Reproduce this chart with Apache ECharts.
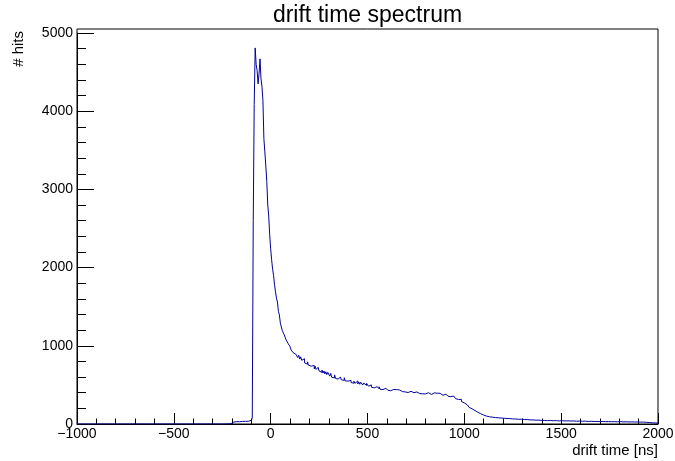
<!DOCTYPE html>
<html>
<head>
<meta charset="utf-8">
<script src="https://cdn.jsdelivr.net/npm/echarts@6/dist/echarts.min.js"></script>
<style>
  html, body { margin: 0; padding: 0; background: #fff; }
  #chart { width: 675px; height: 461px; }
</style>
</head>
<body>
<div id="chart"></div>
<script>
// Histogram binning (ns)
const binStart = -1000;
const binWidth = 5;
const xMin = -1000, xMax = 2000, xInterval = 500;
const yTickMax = 5000, yInterval = 1000;
const yMax = 5052;

const chartTitle = "drift time spectrum";
const xTitle = "drift time [ns]";
const yTitle = "# hits";

// counts per 5 ns bin, from -1000 ns to 2000 ns (one row = 100 ns)
const counts = [
  0,0,0,0,0,0,0,0,0,0,0,0,0,0,0,0,0,0,0,0,
  0,0,0,0,0,0,0,0,0,0,0,0,0,0,0,0,0,0,0,0,
  0,0,0,0,0,0,0,0,0,0,0,0,0,0,0,0,0,0,0,0,
  0,0,0,0,0,0,0,0,0,0,0,0,0,0,0,0,0,0,0,0,
  0,0,0,0,0,0,0,0,0,0,0,0,0,0,0,0,0,0,0,0,
  0,0,0,0,0,0,0,0,0,0,0,0,0,0,0,0,0,0,0,0,
  0,0,0,0,0,0,0,0,0,0,0,0,0,0,0,0,0,0,0,0,
  0,0,0,0,0,0,0,0,0,0,1,0,0,1,0,2,1,3,4,9,
  20,25,27,26,30,28,31,29,30,32,33,31,32,34,33,36,35,38,41,46,
  62,78,2600,4085,4810,4600,4520,4350,4480,4670,4420,4320,4140,3650,3480,3300,3100,2800,2660,2420,
  2240,2100,1980,1900,1780,1690,1610,1560,1440,1395,1290,1265,1195,1200,1140,1125,1075,1080,1030,1020,
  990,950,968,915,940,892,878,905,850,878,830,860,815,805,835,782,805,765,795,752,
  770,740,762,720,748,705,738,698,688,725,678,700,660,690,652,678,640,668,632,660,
  635,612,648,598,620,590,628,582,606,575,600,566,602,565,586,558,592,552,576,548,
  566,540,558,530,555,522,548,520,542,550,512,538,508,534,528,498,524,503,494,520,
  505,484,480,500,470,490,462,486,458,478,455,450,476,445,466,440,462,438,458,434,
  452,432,447,425,446,422,442,425,418,440,434,415,436,412,432,415,407,430,410,426,
  422,403,424,398,418,395,416,400,392,417,410,391,413,389,409,394,386,408,390,385,
  404,384,400,380,399,378,396,375,398,379,374,394,376,370,392,373,389,367,386,369,
  382,362,377,356,372,349,366,343,358,334,350,324,340,314,328,304,314,287,296,270,
  268,255,246,232,225,212,205,194,190,180,172,165,160,150,146,138,131,124,120,114,
  110,104,101,97,96,92,91,88,88,85,85,82,83,80,80,78,78,76,77,74,
  74,71,72,70,71,68,69,66,67,65,66,63,64,62,63,60,62,59,61,58,
  59,57,58,55,56,54,55,52,54,51,52,50,51,49,50,48,49,47,48,46,
  47,45,46,44,46,43,45,43,44,42,44,42,43,41,43,41,42,40,42,40,
  42,40,41,39,41,39,40,38,40,38,39,37,39,37,38,36,38,36,37,35,
  37,35,37,34,36,34,36,33,35,33,35,33,34,32,34,32,33,31,33,31,
  33,31,32,30,32,30,32,29,31,29,31,29,30,28,30,28,30,28,29,27,
  30,28,29,27,29,27,28,26,28,26,28,26,27,25,27,25,26,24,26,24,
  26,24,25,23,24,22,23,21,21,19,19,17,17,15,15,14,14,13,13,12
];

const stepData = counts.map((c, i) => [binStart + i * binWidth, c]);
stepData.push([binStart + counts.length * binWidth, counts[counts.length - 1]]);

const FONT = "'Liberation Sans', Arial, Helvetica, sans-serif";
const chart = echarts.init(document.getElementById('chart'), null, { renderer: 'canvas' });

const GL = 77, GR = 17, GT = 29, GB = 37;
const plotH = 461 - GT - GB;
const tickGridTop = GT + plotH * (yMax - yTickMax) / yMax;

chart.setOption({
  animation: false,
  backgroundColor: '#ffffff',
  grid: [
    { left: GL, right: GR, top: GT, bottom: GB, show: true, borderColor: '#000', borderWidth: 1,
      backgroundColor: 'transparent', outerBoundsMode: 'none', containLabel: false },
    { left: GL, right: GR, top: tickGridTop, bottom: GB, show: false, outerBoundsMode: 'none', containLabel: false }
  ],
  xAxis: [
    { type: 'value', gridIndex: 0, min: xMin, max: xMax, interval: xInterval,
      axisLine: { show: true, onZero: false, lineStyle: { color: '#000', width: 1 } },
      axisTick: { show: true, inside: true, length: 11, lineStyle: { color: '#000', width: 1 } },
      minorTick: { show: true, splitNumber: 5, length: 5.5, lineStyle: { color: '#000', width: 1 } },
      splitLine: { show: false }, minorSplitLine: { show: false },
      axisLabel: { show: true, margin: 3, color: '#000', fontFamily: FONT, fontSize: 14,
        hideOverlap: false,
        formatter: v => String(v).replace('-', '\u2212') } },
    { type: 'value', gridIndex: 1, min: xMin, max: xMax, show: false }
  ],
  yAxis: [
    { type: 'value', gridIndex: 0, min: 0, max: yMax, show: false,
      axisLine: { show: false }, axisTick: { show: false }, axisLabel: { show: false }, splitLine: { show: false } },
    { type: 'value', gridIndex: 1, min: 0, max: yTickMax, interval: yInterval,
      axisLine: { show: true, onZero: false, lineStyle: { color: '#000', width: 1 } },
      axisTick: { show: true, inside: true, length: 17, lineStyle: { color: '#000', width: 1 } },
      minorTick: { show: true, splitNumber: 5, length: 9, lineStyle: { color: '#000', width: 1 } },
      splitLine: { show: false }, minorSplitLine: { show: false },
      axisLabel: { show: true, margin: 4, color: '#000', fontFamily: FONT, fontSize: 14, hideOverlap: false,
        formatter: v => String(v) } }
  ],
  series: [
    { type: 'line', xAxisIndex: 0, yAxisIndex: 0, data: stepData, step: 'end',
      showSymbol: false, symbol: 'none', silent: true,
      lineStyle: { color: '#000099', width: 1 }, itemStyle: { color: '#000099' } }
  ],
  graphic: [
    { type: 'text', style: { text: chartTitle, x: 367.5, y: 16, textAlign: 'center',
      textVerticalAlign: 'middle', fill: '#000', font: "23px " + FONT } },
    { type: 'text', style: { text: xTitle, x: 658, y: 451, textAlign: 'right', textVerticalAlign: 'middle',
      fill: '#000', font: "15px " + FONT } },
    { type: 'text', x: 19, y: 31, rotation: Math.PI / 2,
      style: { text: yTitle, x: 0, y: 0, textAlign: 'right', textVerticalAlign: 'middle',
      fill: '#000', font: "15px " + FONT } }
  ]
});
</script>
</body>
</html>
